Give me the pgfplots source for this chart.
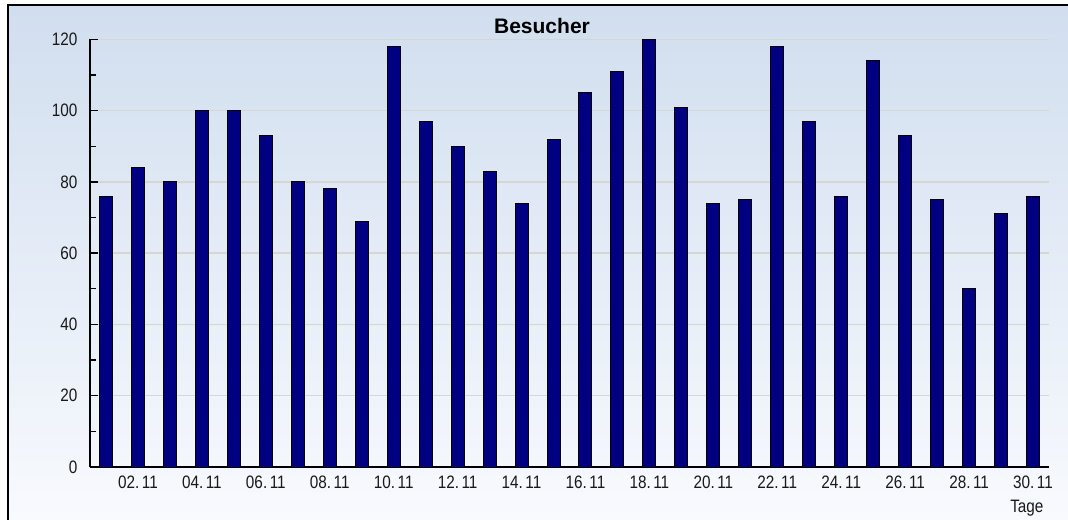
\documentclass[border=0pt]{standalone}
\usepackage{pgfplots}
\pgfplotsset{compat=1.18}
\usepackage{pgfplotstable}
\usepackage{fontspec}
\setmainfont{Liberation Sans}
\newfontfamily\tickfont[FakeStretch=0.85]{Liberation Sans}
\definecolor{bgtop}{RGB}{209,222,239}
\definecolor{bgbot}{RGB}{248,250,254}
\definecolor{barblue}{RGB}{0,0,128}
\definecolor{gridc}{RGB}{214,214,210}
\newcommand{\dd}[2]{#1{}#2.\kern2.5bp 1{}1}
\pgfplotstableread{
day val
1 76
2 84
3 80
4 100
5 100
6 93
7 80
8 78
9 69
10 118
11 97
12 90
13 83
14 74
15 92
16 105
17 111
18 120
19 101
20 74
21 75
22 118
23 97
24 76
25 114
26 93
27 75
28 50
29 71
30 76
}\datatable
\begin{document}
\begin{tikzpicture}
\useasboundingbox (0,0) rectangle (1068bp,520bp);
\fill[white] (0,0) rectangle (1068bp,520bp);
\shade[top color=bgtop, bottom color=bgbot] (8bp,0) rectangle (1068bp,515bp);
\draw[line width=1.5bp] (8bp,0) -- (8bp,515bp) -- (1068bp,515bp);
\begin{axis}[
  at={(90bp,53bp)}, anchor=south west, scale only axis,
  width=959bp, height=427.7bp,
  xmin=0.5, xmax=30.5, ymin=0, ymax=120,
  axis x line*=bottom, axis y line*=left,
  axis line style={line width=1.4bp, -},
  tick align=inside,
  tick style={black, line width=1.3bp},
  major tick length=8bp, minor tick length=5.5bp,
  xtick={2,4,6,8,10,12,14,16,18,20,22,24,26,28,30},
  xticklabels={\dd02,\dd04,\dd06,\dd08,\dd10,\dd12,\dd14,\dd16,\dd18,\dd20,\dd22,\dd24,\dd26,\dd28,\dd30},
  xtick style={draw=none},
  extra x ticks={1.5,2.5,3.5,4.5,5.5,6.5,7.5,8.5,9.5,10.5,11.5,12.5,13.5,14.5,15.5,16.5,17.5,18.5,19.5,20.5,21.5,22.5,23.5,24.5,25.5,26.5,27.5,28.5,29.5,30.5},
  extra x tick labels={},
  extra x tick style={tick style={black, line width=1.3bp}, grid=none},
  ytick={0,20,...,120}, minor ytick={10,30,...,110},
  ymajorgrids, grid style={gridc, line width=1.3bp},
  /pgf/number format/assume math mode=true,
  ticklabel style={font=\tickfont\fontsize{18bp}{21bp}\selectfont, text=black!90},
  xticklabel style={anchor=base, yshift=-21bp},
  yticklabel style={xshift=-9bp},
  clip=false,
]
\addplot[ybar, bar width=13bp, fill=barblue, draw=black, line width=1bp] table[x=day,y=val]{\datatable};
\end{axis}
\node[font=\bfseries\fontsize{21bp}{25bp}\selectfont, anchor=base] at (542bp,486bp) {Besucher};
\node[font=\tickfont\fontsize{18bp}{21bp}\selectfont, anchor=base east, text=black!90] at (1047bp,8bp) {Tage};
\end{tikzpicture}
\end{document}
